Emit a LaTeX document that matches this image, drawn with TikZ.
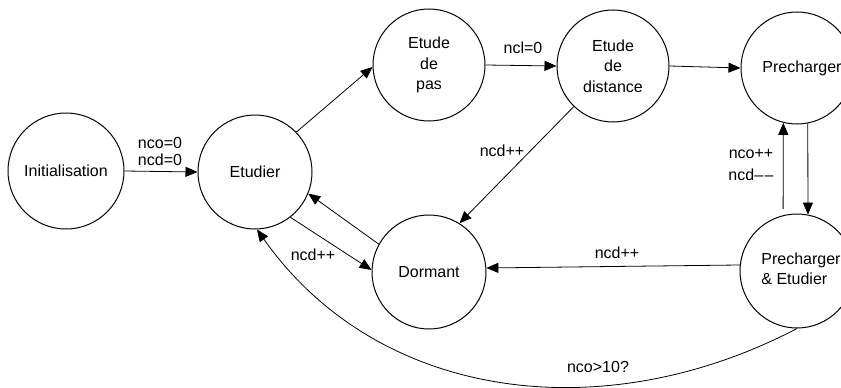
\documentclass[tikz,border=0pt]{standalone}
\usepackage{fontspec}
\setmainfont{Liberation Sans}
\usetikzlibrary{arrows.meta}
\begin{document}
\begin{tikzpicture}[x=1pt,y=-1pt,
  state/.style={circle,draw,line width=1pt,inner sep=0pt,align=center,
    font=\fontsize{16}{20.5}\selectfont},
  lbl/.style={inner sep=0pt,font=\fontsize{16}{20}\selectfont},
  trans/.style={line width=0.8pt,-{Triangle[length=12pt,width=10pt]}}]
  \useasboundingbox (0,0) rectangle (841,388);

  % states
  \node[state,minimum size=116pt] (init) at (66,171) {Initialisation};
  \node[state,minimum size=114pt] (etud) at (255,172) {Etudier};
  \node[state,minimum size=112pt] (pas)  at (429,65)  {Etude\\de\\pas};
  \node[state,minimum size=112pt] (dist) at (613,66)  {Etude\\de\\distance};
  \node[state,minimum size=112pt] (prech) at (797,68) {};
  \node[lbl] (prechtxt) at (802,68) {Precharger};
  \node[state,minimum size=114pt] (dorm) at (429,272) {Dormant};
  \node[state,minimum size=114pt] (pe)   at (797,271) {};
  \node[lbl,align=left,font=\fontsize{16}{20.5}\selectfont] (petxt) at (801,269) {Precharger\\\& Etudier};

  % transitions
  \draw[trans] (init.0) -- (etud.180);
  \draw[trans] (etud.44) -- (pas.182);
  \draw[trans] (pas.0) -- (dist.180);
  \draw[trans] (dist.0) -- (prech.180);
  \draw[trans] (dist.-134) -- (dorm.58);
  \draw[trans] (prech.-79) -- (pe.79);
  \draw[trans,shorten <=6pt] (pe.104) -- (prech.-104);
  \draw[trans] (pe.174) -- (dorm.4);
  \draw[trans] (dorm.151) -- (etud.-22);
  \draw[trans] (etud.-52) -- (dorm.178);
  \draw[trans] (pe.-90) .. controls (603,430) and (378,401) .. (etud.-88);

  % transition labels
  \node[lbl] (l1a) at (160,143) {nco=0};
  \node[lbl] (l1b) at (160,160) {ncd=0};
  \node[lbl] (l2)  at (523,48)  {ncl=0};
  \node[lbl] (l3)  at (502,151) {ncd++};
  \node[lbl] (l4a) at (751,154) {nco++};
  \node[lbl] (l4b) at (751,175) {ncd\textendash\kern1.5pt\textendash};
  \node[lbl] (l5)  at (617,253) {ncd++};
  \node[lbl] (l6)  at (313,255) {ncd++};
  \node[lbl] (l7)  at (598,367) {nco>10?};
\end{tikzpicture}
\end{document}
